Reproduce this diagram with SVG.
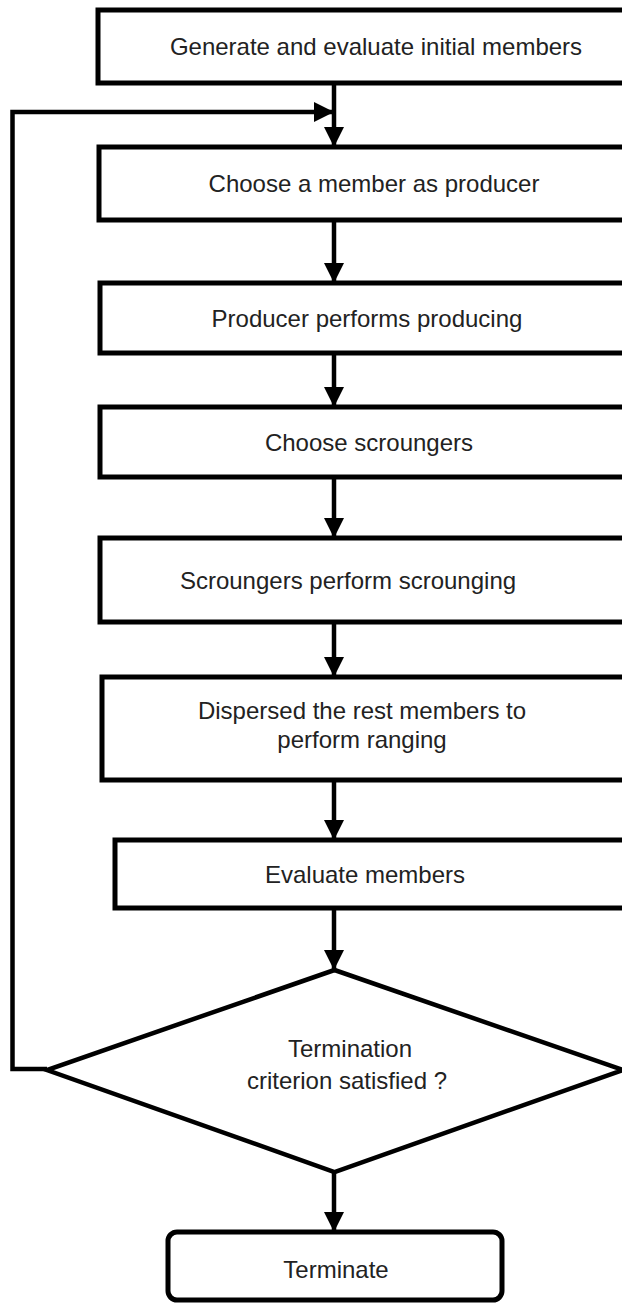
<svg xmlns="http://www.w3.org/2000/svg" width="622" height="1304" viewBox="0 0 622 1304">
<defs>
<style>
.box{fill:#fff;stroke:#000;stroke-width:5}
.dia{fill:#fff;stroke:#000;stroke-width:4.5;stroke-linejoin:miter}
.lbl{font-family:"Liberation Sans",Arial,sans-serif;font-size:24px;fill:#222;text-anchor:middle}
.con{fill:none;stroke:#000;stroke-width:4.5}
</style>
<marker id="ah" markerUnits="userSpaceOnUse" markerWidth="20" markerHeight="20" viewBox="0 0 18 18" refX="18" refY="9" orient="auto">
<path d="M0,0 L18,9 L0,18 Z" fill="#000"/>
</marker>
</defs>
<rect width="622" height="1304" fill="#fff"/>
<g id="connectors">
<line class="con" x1="334" y1="83" x2="334" y2="147" marker-end="url(#ah)"/>
<polyline class="con" points="47,1069 12.5,1069 12.5,112 334,112" marker-end="url(#ah)"/>
<line class="con" x1="334" y1="220" x2="334" y2="283" marker-end="url(#ah)"/>
<line class="con" x1="334" y1="353" x2="334" y2="407" marker-end="url(#ah)"/>
<line class="con" x1="334" y1="477" x2="334" y2="538" marker-end="url(#ah)"/>
<line class="con" x1="334" y1="622" x2="334" y2="677" marker-end="url(#ah)"/>
<line class="con" x1="334" y1="780" x2="334" y2="840" marker-end="url(#ah)"/>
<line class="con" x1="334" y1="908" x2="334" y2="970" marker-end="url(#ah)"/>
<line class="con" x1="334" y1="1172" x2="334" y2="1232" marker-end="url(#ah)"/>
</g>
<g id="n1">
<rect class="box" x="98" y="10" width="550" height="73"/>
<text class="lbl" x="376" y="55">Generate and evaluate initial members</text>
</g>
<g id="n2">
<rect class="box" x="99" y="147" width="550" height="73"/>
<text class="lbl" x="374" y="192">Choose a member as producer</text>
</g>
<g id="n3">
<rect class="box" x="100" y="283" width="550" height="70"/>
<text class="lbl" x="367" y="327">Producer performs producing</text>
</g>
<g id="n4">
<rect class="box" x="100" y="407" width="550" height="70"/>
<text class="lbl" x="369" y="451">Choose scroungers</text>
</g>
<g id="n5">
<rect class="box" x="100" y="538" width="550" height="84"/>
<text class="lbl" x="348" y="589">Scroungers perform scrounging</text>
</g>
<g id="n6">
<rect class="box" x="102" y="677" width="550" height="103"/>
<text class="lbl" x="362" y="719">Dispersed the rest members to</text>
<text class="lbl" x="362" y="748">perform ranging</text>
</g>
<g id="n7">
<rect class="box" x="115" y="840" width="540" height="68"/>
<text class="lbl" x="365" y="883">Evaluate members</text>
</g>
<g id="n8">
<polygon class="dia" points="334.5,970 623,1070 334.5,1172 47,1070"/>
<text class="lbl" x="350" y="1057">Termination</text>
<text class="lbl" x="347" y="1089">criterion satisfied ?</text>
</g>
<g id="n9">
<rect class="box" x="168" y="1232" width="334" height="68" rx="9" ry="9"/>
<text class="lbl" x="336" y="1278">Terminate</text>
</g>
</svg>
